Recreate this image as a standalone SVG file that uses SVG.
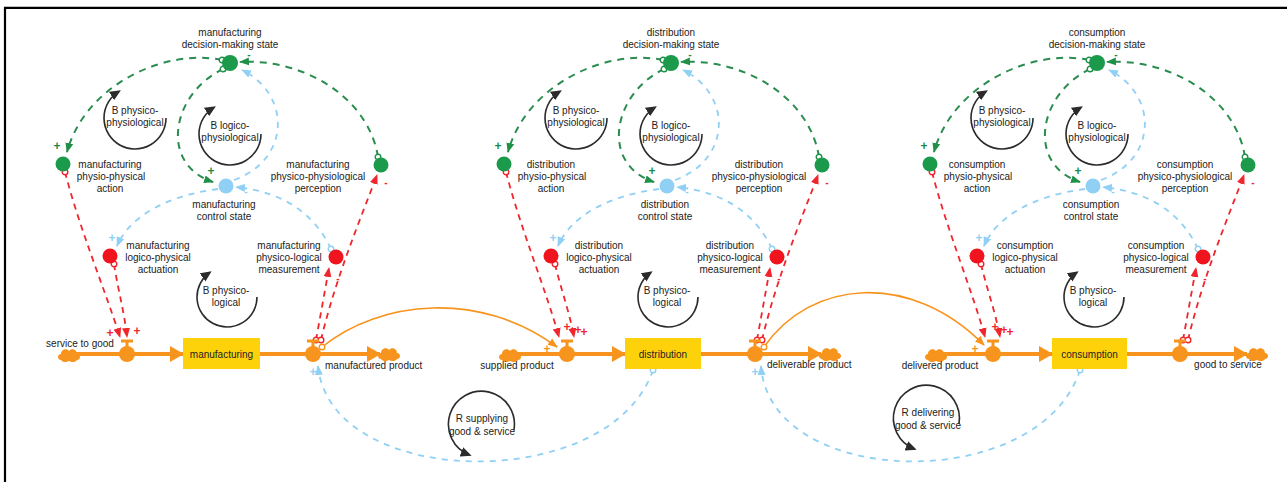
<svg xmlns="http://www.w3.org/2000/svg" width="1287" height="482" viewBox="0 0 1287 482">
<style>
text{font-family:"Liberation Sans",Arial,Helvetica,sans-serif;font-size:10px;fill:#222;text-anchor:middle}
.lft{text-anchor:start}
.g{fill:none;stroke:#2a8c4f;stroke-width:2;stroke-dasharray:7 6}
.b{fill:none;stroke:#8fd0f4;stroke-width:1.8;stroke-dasharray:6 6}
.r{fill:none;stroke:#f0262c;stroke-width:1.8;stroke-dasharray:6 5}
.o{fill:none;stroke:#f7941d;stroke-width:1.6}
.flow{fill:none;stroke:#f7941d;stroke-width:4}
.loop{fill:none;stroke:#2b2b2b;stroke-width:1.6}
.ng{fill:#1c9a4b}.nb{fill:#8fd0f4}.nr{fill:#f0141e}
.box{fill:#fed20b}
.ps{font-size:12px;font-weight:bold}
.ms{font-size:10px;font-weight:bold}
.pg{fill:#1c8a45}.pb{fill:#8fd0f4}.pr{fill:#f0262c}.po{fill:#f7941d}
</style>
<defs>
<marker id="ag" markerUnits="userSpaceOnUse" markerWidth="10" markerHeight="10" viewBox="0 0 10 10" refX="9" refY="5" orient="auto"><path d="M0,1 L10,5 L0,9 z" fill="#1f9048"/></marker>
<marker id="ab" markerUnits="userSpaceOnUse" markerWidth="10" markerHeight="10" viewBox="0 0 10 10" refX="9" refY="5" orient="auto"><path d="M0,1 L10,5 L0,9 z" fill="#8fd0f4"/></marker>
<marker id="ar" markerUnits="userSpaceOnUse" markerWidth="10" markerHeight="10" viewBox="0 0 10 10" refX="9" refY="5" orient="auto"><path d="M0,1 L10,5 L0,9 z" fill="#f0262c"/></marker>
<marker id="ao" markerUnits="userSpaceOnUse" markerWidth="10" markerHeight="10" viewBox="0 0 10 10" refX="9" refY="5" orient="auto"><path d="M0,1 L10,5 L0,9 z" fill="#f7941d"/></marker>
<marker id="ak" markerUnits="userSpaceOnUse" markerWidth="11" markerHeight="11" viewBox="0 0 10 10" refX="8" refY="5" orient="auto"><path d="M0,0.5 L10,5 L0,9.5 z" fill="#2b2b2b"/></marker>
<marker id="af" markerUnits="userSpaceOnUse" markerWidth="14" markerHeight="16" viewBox="0 0 14 16" refX="13" refY="8" orient="auto"><path d="M0,0 L14,8 L0,16 z" fill="#f7941d"/></marker>
<marker id="og" markerUnits="userSpaceOnUse" markerWidth="8" markerHeight="8" viewBox="0 0 8 8" refX="4" refY="4"><circle cx="4" cy="4" r="2.8" fill="#fff" stroke="#1f9048" stroke-width="1.4" stroke-dasharray="none"/></marker>
<marker id="ob" markerUnits="userSpaceOnUse" markerWidth="8" markerHeight="8" viewBox="0 0 8 8" refX="4" refY="4"><circle cx="4" cy="4" r="2.8" fill="#fff" stroke="#8fd0f4" stroke-width="1.4" stroke-dasharray="none"/></marker>
<marker id="or" markerUnits="userSpaceOnUse" markerWidth="8" markerHeight="8" viewBox="0 0 8 8" refX="4" refY="4"><circle cx="4" cy="4" r="2.8" fill="#fff" stroke="#f0262c" stroke-width="1.4" stroke-dasharray="none"/></marker>
<marker id="oo" markerUnits="userSpaceOnUse" markerWidth="8" markerHeight="8" viewBox="0 0 8 8" refX="4" refY="4"><circle cx="4" cy="4" r="2.8" fill="#fff" stroke="#f7941d" stroke-width="1.4"/></marker>
<g id="valve"><path d="M-6,-13 H6 M0,-13 V-6" stroke="#f7941d" stroke-width="3" fill="none"/><circle r="8" fill="#f7941d"/></g>
<path id="cloud" d="M-8,5 C-12,5 -12,-1 -8,-1 C-8,-6 -2,-7 0,-4 C2,-7 8,-6 8,-1 C12,-1 12,5 8,5 C6,8 2,7 0,6 C-2,7 -6,8 -8,5 Z" fill="#f7941d"/>
</defs>

<rect width="1287" height="482" fill="#fff"/>
<g id="frame" stroke="#000" stroke-width="2.2" fill="none"><path d="M5,482 V7.8 H1287"/></g>

<g id="connectors">
 <g id="conn-mfg">
  <path class="g" d="M222,60 C165,48 85,85 67,152" marker-start="url(#og)" marker-end="url(#ag)"/>
  <path class="g" d="M378,157 C368,95 300,58 240,62" marker-start="url(#og)" marker-end="url(#ag)"/>
  <path class="g" d="M223,69 C170,95 160,165 213,182" marker-start="url(#og)" marker-end="url(#ag)"/>
  <path class="b" d="M234,180 C290,160 292,95 242,70" marker-end="url(#ab)"/>
  <path class="b" d="M218,189 C170,195 130,215 117,246" marker-end="url(#ab)"/>
  <path class="b" d="M331,249 C315,215 285,192 236,187" marker-start="url(#ob)" marker-end="url(#ab)"/>
  <path class="r" d="M65,172 C80,230 105,290 120,337" marker-start="url(#or)" marker-end="url(#ar)"/>
  <path class="r" d="M114,264 C118,290 124,310 127,337" marker-start="url(#or)" marker-end="url(#ar)"/>
  <path class="r" d="M316,340 L329,268" marker-start="url(#or)" marker-end="url(#ar)"/>
  <path class="r" d="M321,340 C335,280 360,220 377,175" marker-start="url(#or)" marker-end="url(#ar)"/>
  <path class="flow" d="M76,354 H183" marker-end="url(#af)"/>
  <path class="flow" d="M260,354 H380" marker-end="url(#af)"/>
 </g>
 <g id="conn-dist" transform="translate(441,0)">
  <path class="g" d="M222,60 C165,48 85,85 67,152" marker-start="url(#og)" marker-end="url(#ag)"/>
  <path class="g" d="M378,157 C368,95 300,58 240,62" marker-start="url(#og)" marker-end="url(#ag)"/>
  <path class="g" d="M223,69 C170,95 160,165 213,182" marker-start="url(#og)" marker-end="url(#ag)"/>
  <path class="b" d="M234,180 C290,160 292,95 242,70" marker-end="url(#ab)"/>
  <path class="b" d="M218,189 C170,195 130,215 117,246" marker-end="url(#ab)"/>
  <path class="b" d="M331,249 C315,215 285,192 236,187" marker-start="url(#ob)" marker-end="url(#ab)"/>
  <path class="r" d="M65,172 C80,230 105,290 118,337" marker-start="url(#or)" marker-end="url(#ar)"/>
  <path class="r" d="M114,264 C120,290 128,310 133,337" marker-start="url(#or)" marker-end="url(#ar)"/>
  <path class="r" d="M316,340 L329,268" marker-start="url(#or)" marker-end="url(#ar)"/>
  <path class="r" d="M321,340 C335,280 360,220 377,175" marker-start="url(#or)" marker-end="url(#ar)"/>
  <path class="flow" d="M76,354 H184" marker-end="url(#af)"/>
  <path class="flow" d="M260,354 H380" marker-end="url(#af)"/>
 </g>
 <g id="conn-cons" transform="translate(867,0)">
  <path class="g" d="M222,60 C165,48 85,85 67,152" marker-start="url(#og)" marker-end="url(#ag)"/>
  <path class="g" d="M378,157 C368,95 300,58 240,62" marker-start="url(#og)" marker-end="url(#ag)"/>
  <path class="g" d="M223,69 C170,95 160,165 213,182" marker-start="url(#og)" marker-end="url(#ag)"/>
  <path class="b" d="M234,180 C290,160 292,95 242,70" marker-end="url(#ab)"/>
  <path class="b" d="M218,189 C170,195 130,215 117,246" marker-end="url(#ab)"/>
  <path class="b" d="M331,249 C315,215 285,192 236,187" marker-start="url(#ob)" marker-end="url(#ab)"/>
  <path class="r" d="M65,172 C80,230 105,290 118,337" marker-start="url(#or)" marker-end="url(#ar)"/>
  <path class="r" d="M114,264 C120,290 128,310 133,337" marker-start="url(#or)" marker-end="url(#ar)"/>
  <path class="r" d="M316,340 L329,268" marker-start="url(#or)" marker-end="url(#ar)"/>
  <path class="r" d="M321,340 C335,280 360,220 377,175" marker-start="url(#or)" marker-end="url(#ar)"/>
  <path class="flow" d="M76,354 H185" marker-end="url(#af)"/>
  <path class="flow" d="M260,354 H380" marker-end="url(#af)"/>
 </g>
 <g id="conn-links">
  <path class="o" d="M322,347 C380,300 480,290 557,347" marker-start="url(#oo)" marker-end="url(#ao)"/>
  <path class="o" d="M764,347 C810,280 910,270 984,345" marker-start="url(#oo)" marker-end="url(#ao)"/>
  <path class="b" d="M653,370 C610,495 330,490 318,366" marker-start="url(#ob)" marker-end="url(#ab)"/>
  <path class="b" d="M1080,370 C1040,495 770,490 761,366" marker-start="url(#ob)" marker-end="url(#ab)"/>
 </g>
 <g id="polarities">
  <g id="pol-mfg">
   <text class="ps pg" x="57" y="150">+</text><text class="ms pg" x="249" y="58">-</text><text class="ps pg" x="211" y="175">+</text>
   <text class="ps pb" x="112" y="242">+</text><text class="ms pb" x="246" y="195">-</text>
   <text class="ps pr" x="110" y="337">+</text><text class="ps pr" x="137" y="335">+</text>
   <text class="ms pr" x="338" y="282">-</text><text class="ms pr" x="386" y="186">-</text>
   <text class="ps pb" x="313" y="376">+</text>
  </g>
  <g id="pol-dist" transform="translate(441,0)">
   <text class="ps pg" x="57" y="150">+</text><text class="ms pg" x="249" y="58">-</text><text class="ps pg" x="211" y="175">+</text>
   <text class="ps pb" x="112" y="242">+</text><text class="ms pb" x="246" y="195">-</text>
   <text class="ps pr" x="126" y="331">+</text><text class="ps pr" x="137" y="334">+</text><text class="ps pr" x="143" y="336">+</text>
   <text class="ms pr" x="338" y="282">-</text><text class="ms pr" x="386" y="186">-</text>
   <text class="ps po" x="106" y="353">+</text>
   <text class="ps pb" x="314" y="376">+</text>
  </g>
  <g id="pol-cons" transform="translate(867,0)">
   <text class="ps pg" x="57" y="150">+</text><text class="ms pg" x="249" y="58">-</text><text class="ps pg" x="211" y="175">+</text>
   <text class="ps pb" x="112" y="242">+</text><text class="ms pb" x="246" y="195">-</text>
   <text class="ps pr" x="128" y="331">+</text><text class="ps pr" x="137" y="334">+</text><text class="ps pr" x="143" y="336">+</text>
   <text class="ms pr" x="338" y="282">-</text><text class="ms pr" x="386" y="186">-</text>
   <text class="ps po" x="108" y="353">+</text>
  </g>
 </g>
</g>

<g id="module-mfg">
 <g id="mfg-decision"><circle class="ng" cx="230" cy="63" r="8"/><text x="230" y="36">manufacturing</text><text x="230" y="48">decision-making state</text></g>
 <g id="mfg-action"><circle class="ng" cx="63" cy="164" r="7.5"/><text x="110" y="167.5">manufacturing</text><text x="111" y="179.5">physio-physical</text><text x="110" y="191.5">action</text></g>
 <g id="mfg-perception"><circle class="ng" cx="381" cy="165" r="7.5"/><text x="318" y="167.5">manufacturing</text><text x="318" y="179.5">physico-physiological</text><text x="318" y="191.5">perception</text></g>
 <g id="mfg-control"><circle class="nb" cx="226" cy="186" r="7.5"/><text x="224" y="208">manufacturing</text><text x="224" y="220">control state</text></g>
 <g id="mfg-actuation"><circle class="nr" cx="110" cy="256" r="7.5"/><text x="158" y="248.5">manufacturing</text><text x="158" y="260.5">logico-physical</text><text x="158" y="272.5">actuation</text></g>
 <g id="mfg-measurement"><circle class="nr" cx="336" cy="257" r="7.5"/><text x="289" y="248.5">manufacturing</text><text x="289" y="260.5">physico-logical</text><text x="289" y="272.5">measurement</text></g>
 <g id="mfg-source"><use href="#cloud" x="69" y="355"/><text x="80" y="346.5">service to good</text></g>
 <g id="mfg-valve-in"><use href="#valve" x="127" y="354"/></g>
 <g id="mfg-box"><rect class="box" x="183" y="338" width="77" height="31"/><text x="221.5" y="357.5">manufacturing</text></g>
 <g id="mfg-valve-out"><use href="#valve" x="313" y="354"/></g>
 <g id="mfg-sink"><use href="#cloud" x="389" y="354"/><text class="lft" x="325" y="368.5">manufactured product</text></g>
 <g id="mfg-loop-pp"><path class="loop" d="M166,118 A31,31 0 1 1 119,91.4" marker-end="url(#ak)"/><text x="135" y="113.5">B physico-</text><text x="135" y="125.5">physiological</text></g>
 <g id="mfg-loop-lp"><path class="loop" d="M261,134 A31,31 0 1 1 214,107.4" marker-end="url(#ak)"/><text x="230" y="128.5">B logico-</text><text x="230" y="140.5">physiological</text></g>
 <g id="mfg-loop-pl"><path class="loop" d="M257,297 A30,30 0 1 1 209.8,272.4" marker-end="url(#ak)"/><text x="226" y="293.5">B physico-</text><text x="226" y="305.5">logical</text></g>
</g>

<g id="module-dist" transform="translate(441,0)">
 <g id="dist-decision"><circle class="ng" cx="230" cy="63" r="8"/><text x="230" y="36">distribution</text><text x="230" y="48">decision-making state</text></g>
 <g id="dist-action"><circle class="ng" cx="63" cy="164" r="7.5"/><text x="110" y="167.5">distribution</text><text x="111" y="179.5">physio-physical</text><text x="110" y="191.5">action</text></g>
 <g id="dist-perception"><circle class="ng" cx="381" cy="165" r="7.5"/><text x="318" y="167.5">distribution</text><text x="318" y="179.5">physico-physiological</text><text x="318" y="191.5">perception</text></g>
 <g id="dist-control"><circle class="nb" cx="226" cy="186" r="7.5"/><text x="224" y="208">distribution</text><text x="224" y="220">control state</text></g>
 <g id="dist-actuation"><circle class="nr" cx="110" cy="256" r="7.5"/><text x="158" y="248.5">distribution</text><text x="158" y="260.5">logico-physical</text><text x="158" y="272.5">actuation</text></g>
 <g id="dist-measurement"><circle class="nr" cx="336" cy="257" r="7.5"/><text x="289" y="248.5">distribution</text><text x="289" y="260.5">physico-logical</text><text x="289" y="272.5">measurement</text></g>
 <g id="dist-source"><use href="#cloud" x="69" y="355"/><text x="76" y="368.5">supplied product</text></g>
 <g id="dist-valve-in"><use href="#valve" x="126" y="354"/></g>
 <g id="dist-box"><rect class="box" x="184" y="338" width="76" height="31"/><text x="222" y="357.5">distribution</text></g>
 <g id="dist-valve-out"><use href="#valve" x="314" y="354"/></g>
 <g id="dist-sink"><use href="#cloud" x="389" y="354"/><text class="lft" x="326" y="367.5">deliverable product</text></g>
 <g id="dist-loop-pp"><path class="loop" d="M166,118 A31,31 0 1 1 119,91.4" marker-end="url(#ak)"/><text x="135" y="113.5">B physico-</text><text x="135" y="125.5">physiological</text></g>
 <g id="dist-loop-lp"><path class="loop" d="M261,134 A31,31 0 1 1 214,107.4" marker-end="url(#ak)"/><text x="230" y="128.5">B logico-</text><text x="230" y="140.5">physiological</text></g>
 <g id="dist-loop-pl"><path class="loop" d="M257,297 A30,30 0 1 1 209.8,272.4" marker-end="url(#ak)"/><text x="226" y="293.5">B physico-</text><text x="226" y="305.5">logical</text></g>
</g>

<g id="module-cons" transform="translate(867,0)">
 <g id="cons-decision"><circle class="ng" cx="230" cy="63" r="8"/><text x="230" y="36">consumption</text><text x="230" y="48">decision-making state</text></g>
 <g id="cons-action"><circle class="ng" cx="63" cy="164" r="7.5"/><text x="110" y="167.5">consumption</text><text x="111" y="179.5">physio-physical</text><text x="110" y="191.5">action</text></g>
 <g id="cons-perception"><circle class="ng" cx="381" cy="165" r="7.5"/><text x="318" y="167.5">consumption</text><text x="318" y="179.5">physico-physiological</text><text x="318" y="191.5">perception</text></g>
 <g id="cons-control"><circle class="nb" cx="226" cy="186" r="7.5"/><text x="224" y="208">consumption</text><text x="224" y="220">control state</text></g>
 <g id="cons-actuation"><circle class="nr" cx="110" cy="256" r="7.5"/><text x="158" y="248.5">consumption</text><text x="158" y="260.5">logico-physical</text><text x="158" y="272.5">actuation</text></g>
 <g id="cons-measurement"><circle class="nr" cx="336" cy="257" r="7.5"/><text x="289" y="248.5">consumption</text><text x="289" y="260.5">physico-logical</text><text x="289" y="272.5">measurement</text></g>
 <g id="cons-source"><use href="#cloud" x="69" y="355"/><text x="73" y="368.5">delivered product</text></g>
 <g id="cons-valve-in"><use href="#valve" x="126" y="354"/></g>
 <g id="cons-box"><rect class="box" x="185" y="338" width="75" height="31"/><text x="222.5" y="357.5">consumption</text></g>
 <g id="cons-valve-out"><use href="#valve" x="313" y="354"/></g>
 <g id="cons-sink"><use href="#cloud" x="390" y="354"/><text x="361" y="367.5">good to service</text></g>
 <g id="cons-loop-pp"><path class="loop" d="M166,118 A31,31 0 1 1 119,91.4" marker-end="url(#ak)"/><text x="135" y="113.5">B physico-</text><text x="135" y="125.5">physiological</text></g>
 <g id="cons-loop-lp"><path class="loop" d="M261,134 A31,31 0 1 1 214,107.4" marker-end="url(#ak)"/><text x="230" y="128.5">B logico-</text><text x="230" y="140.5">physiological</text></g>
 <g id="cons-loop-pl"><path class="loop" d="M257,297 A30,30 0 1 1 209.8,272.4" marker-end="url(#ak)"/><text x="226" y="293.5">B physico-</text><text x="226" y="305.5">logical</text></g>
</g>

<g id="loop-r-supplying"><path class="loop" d="M513.9,430 A33,33 0 1 0 469.6,455" marker-end="url(#ak)"/><text x="482" y="421.5">R supplying</text><text x="482" y="434.5">good &amp; service</text></g>
<g id="loop-r-delivering"><path class="loop" d="M958.9,424 A33,33 0 1 0 914.6,449" marker-end="url(#ak)"/><text x="928" y="415.5">R delivering</text><text x="928" y="428.5">good &amp; service</text></g>
</svg>
